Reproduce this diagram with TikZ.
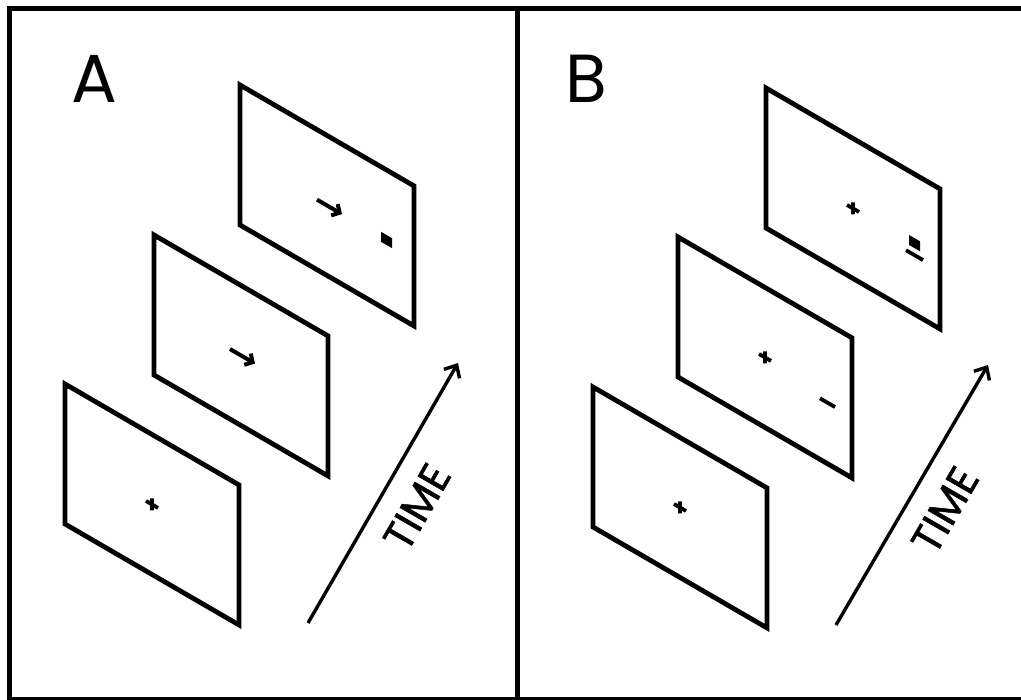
\documentclass[tikz,border=0pt]{standalone}
\usepackage{fontspec}
\setmainfont{Poppins}
\newfontfamily\timefont{Poppins}[FakeBold=1.2]
\usetikzlibrary{arrows.meta}

\begin{document}
\begin{tikzpicture}[x=1pt, y=-1pt, >={Straight Barb[length=10pt, width=18pt]}]
    \tikzset{
        edge/.style={line width=5pt},
        screen/.style={line width=4.8pt, line join=miter},
        on screen/.style args={#1/#2}{shift={(#1,#2)}, yslant=-0.58},
        cue/.style={line width=4pt, -{Straight Barb[length=6pt, width=13pt]}},
        fixmark/.style={line width=3.8pt},
        timeline/.style={line width=3.4pt, ->},
        panel/.style={font=\fontsize{68}{68}\selectfont, inner sep=0pt},
        timelabel/.style={font=\timefont\fontsize{42}{42}\selectfont, rotate=60, inner sep=0pt}
    }
    \useasboundingbox (0,0) rectangle (1021,700);

    % panel borders
    \draw[edge] (1021,8.5) -- (9,8.5) -- (9,700);
    \draw[edge] (517,8.5) -- (517,700);
    \draw[line width=4pt] (9,698.5) -- (1021,698.5);

    \node (lblA) [panel] at (94,79) {A};
    \node (lblB) [panel] at (586.5,78.5) {B};

    % screens
    \foreach \x/\y in {65/384, 154/235, 240/85, 593/387, 678/237, 766/88}
        \draw[screen, on screen=\x/\y] (0,0) rectangle (174,140);

    % fixation crosses
    \foreach \x/\y in {65/384, 593/387, 678/237, 766/88}
        \draw[fixmark, on screen=\x/\y] (81,70) -- (93,70) (87,64) -- (87,76);

    % cues and targets
    \draw[cue, on screen=154/235] (76,70) -- (101,70);
    \draw[cue, on screen=240/85] (77,70) -- (102,70);
    \fill[on screen=240/85] (141,65) rectangle (152,75);
    \draw[fixmark, on screen=678/237] (142,79) -- (157,79);
    \fill[on screen=766/88] (143,64) rectangle (154,74);
    \draw[fixmark, on screen=766/88] (140,81) -- (157,81);

    % time arrows
    \coordinate (tA0) at (308,623);
    \coordinate (tA1) at (458,363);
    \coordinate (tB0) at (836,625);
    \coordinate (tB1) at (988,365);
    \draw[timeline] (tA0) -- (tA1);
    \draw[timeline] (tB0) -- (tB1);
    \node (timeA) [timelabel] at (417,507) {TIME};
    \node (timeB) [timelabel] at (945,510) {TIME};
\end{tikzpicture}
\end{document}
